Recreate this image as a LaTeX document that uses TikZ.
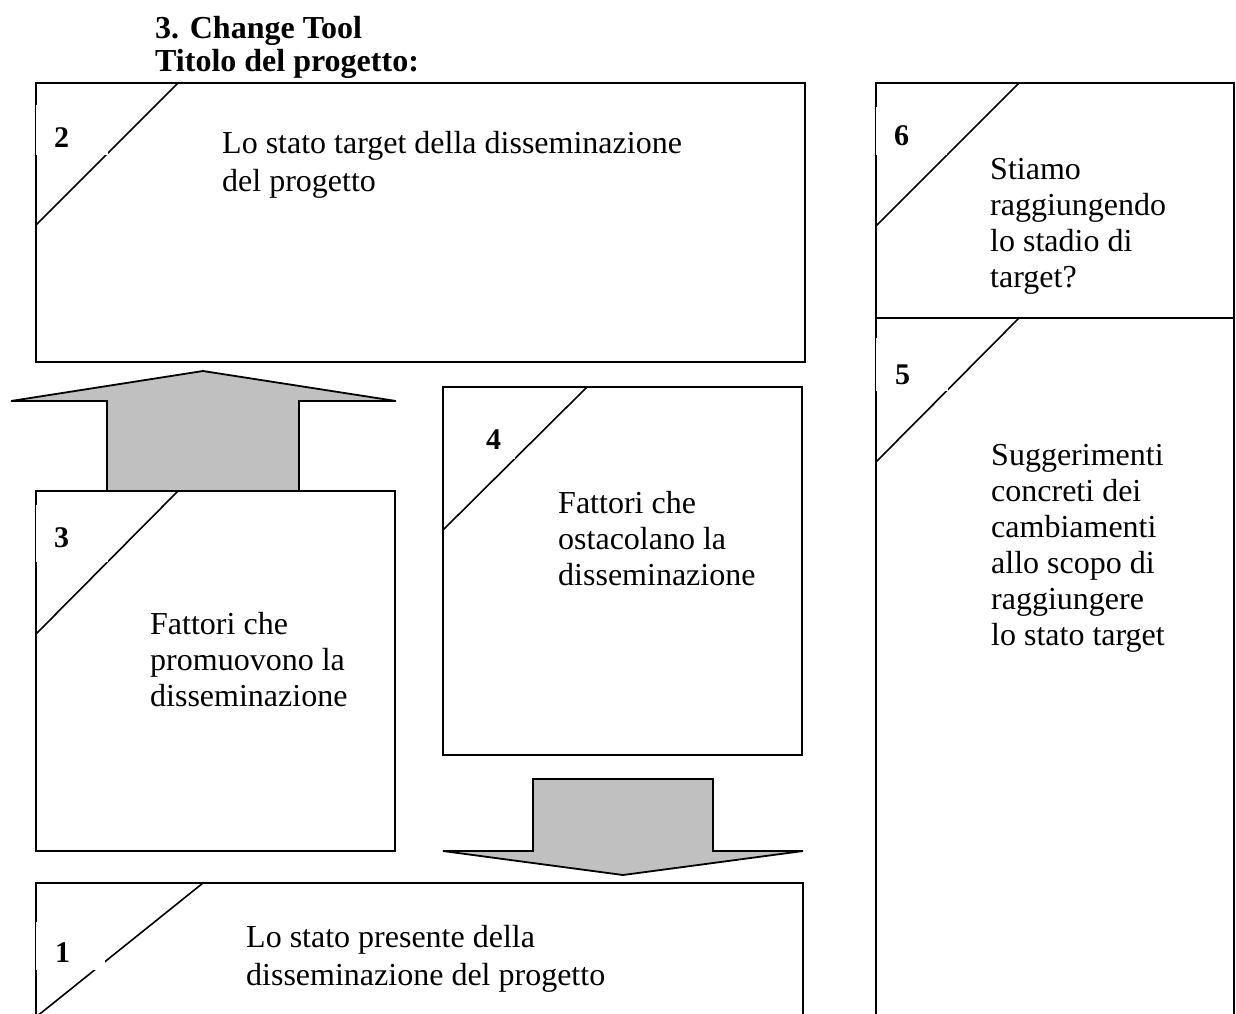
\documentclass[tikz,border=0pt]{standalone}
\usepackage{fontspec}
\setmainfont{Liberation Serif}
\definecolor{arrowgray}{HTML}{C0C0C0}
\begin{document}
\begin{tikzpicture}[x=1pt,y=-1pt,
  frame/.style={line width=1.8pt, line join=miter},
  slash/.style={line width=1.6pt},
  patch/.style={fill=white, draw=none},
  bigarrow/.style={draw, line width=1.8pt, fill=arrowgray, line join=miter},
  % multi-line texts are placed by the baseline of their last line
  body/.style={font=\fontsize{32}{36}\selectfont, align=left, anchor=base west, inner sep=0pt},
  widebody/.style={body, font=\fontsize{32}{37.5}\selectfont},
  num/.style={font=\fontsize{30}{36}\selectfont\bfseries, anchor=base west, inner sep=0pt},
  heading/.style={font=\fontsize{32}{33}\selectfont\bfseries, align=left, anchor=base west, inner sep=0pt}]
\useasboundingbox (0,0) rectangle (1236,1013);
\clip (0,0) rectangle (1236,1013);

% corner points of the frames
\coordinate (b2a) at (36,83);   \coordinate (b2b) at (805,362);
\coordinate (b6a) at (876,83);  \coordinate (b6b) at (1234,318);
\coordinate (b5a) at (876,318); \coordinate (b5b) at (1234,1040);
\coordinate (b4a) at (443,387); \coordinate (b4b) at (802,755);
\coordinate (b3a) at (36,491);  \coordinate (b3b) at (395,851);
\coordinate (b1a) at (36,883);  \coordinate (b1b) at (803,1040);

% block arrows
\draw[bigarrow] (107,491) -- (107,401) -- (11,401) -- (203,371) -- (396,401)
  -- (299,401) -- (299,491) -- cycle;
\draw[bigarrow] (533,779) -- (713,779) -- (713,851) -- (803,851) -- (623,875)
  -- (443,851) -- (533,851) -- cycle;

% frames
\draw[frame] (b2a) rectangle (b2b);
\draw[frame] (b6a) rectangle (b6b);
\draw[frame] (b5a) rectangle (b5b);
\draw[frame] (b4a) rectangle (b4b);
\draw[frame] (b3a) rectangle (b3b);
\draw[frame] (b1a) rectangle (b1b);

% corner slashes
\coordinate (s2a) at (178,83);   \coordinate (s2b) at (36,225);
\coordinate (s6a) at (1019,83);  \coordinate (s6b) at (876,226);
\coordinate (s5a) at (1019,318); \coordinate (s5b) at (876,462);
\coordinate (s4a) at (587,387);  \coordinate (s4b) at (443,530);
\coordinate (s3a) at (178,491);  \coordinate (s3b) at (36,634);
\coordinate (s1a) at (203,883);  \coordinate (s1b) at (36,1017);
\draw[slash] (s2a) -- (s2b);
\draw[slash] (s6a) -- (s6b);
\draw[slash] (s5a) -- (s5b);
\draw[slash] (s4a) -- (s4b);
\draw[slash] (s3a) -- (s3b);
\draw[slash] (s1a) -- (s1b);

% white label boxes behind the numbers
\fill[patch] (36,105) rectangle (108,155);
\fill[patch] (876,107) rectangle (947,155);
\fill[patch] (876,338) rectangle (948,391);
\fill[patch] (446,412) rectangle (515,459);
\fill[patch] (36,505) rectangle (108,562);
\fill[patch] (36,922) rectangle (105,970);

% numbers
\node[num] (n2) at (54,147) {2};
\node[num] (n6) at (894,145) {6};
\node[num] (n5) at (895,384) {5};
\node[num] (n4) at (486,449) {4};
\node[num] (n3) at (54,547) {3};
\node[num] (n1) at (55,962) {1};

% heading
\node[heading] (title) at (155,71) {3. Change Tool\\Titolo del progetto:};

% texts
\node[widebody] (t2) at (222,191) {Lo stato target della disseminazione\\del progetto};
\node[body] (t6) at (990,287) {Stiamo\\raggiungendo\\lo stadio di\\target?};
\node[body] (t5) at (991,645) {Suggerimenti\\concreti dei\\cambiamenti\\allo scopo di\\raggiungere\\lo stato target};
\node[body] (t4) at (558,585) {Fattori che\\ostacolano la\\disseminazione};
\node[body] (t3) at (150,706) {Fattori che\\promuovono la\\disseminazione};
\node[widebody] (t1) at (246,985) {Lo stato presente della\\disseminazione del progetto};
\end{tikzpicture}
\end{document}
